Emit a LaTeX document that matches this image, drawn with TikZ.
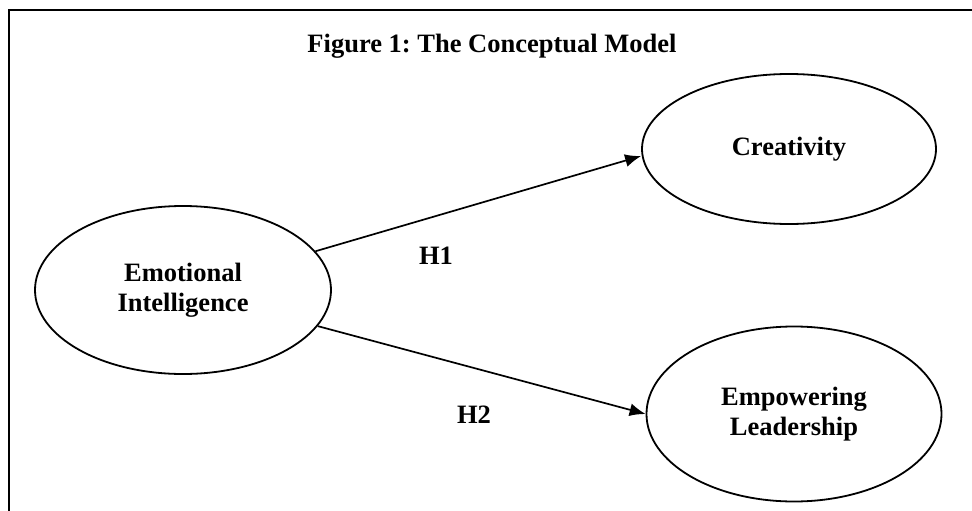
\documentclass[tikz,border=0pt]{standalone}
\usepackage{fontspec}
\setmainfont{Liberation Serif}
\usepackage{tikz}
\usetikzlibrary{shapes.geometric, arrows.meta}

\tikzset{
  construct/.style={ellipse, draw, line width=1.8pt, inner sep=0pt, align=center,
    font=\fontsize{26.5}{30}\selectfont\bfseries},
  path/.style={line width=1.7pt, -{Latex[length=16pt,width=13pt]}},
  hyp/.style={font=\fontsize{26.5}{30}\selectfont\bfseries}
}

\begin{document}
\frenchspacing
\begin{tikzpicture}[x=1pt,y=1pt]

\useasboundingbox (0,0) rectangle (972,-511);
\draw[line width=2.4pt] (9,-511) -- (9,-10) -- (972,-10) ; % frame, cut at right and bottom

\node[hyp] (title) at (492,-46) {Figure 1: The Conceptual Model};

\node[construct, minimum width=296pt, minimum height=168pt] (ei) at (183,-290) {Emotional\\Intelligence};
\node[construct, minimum width=294pt, minimum height=150pt] (cr) at (789,-149) {Creativity};
\node[construct, minimum width=295pt, minimum height=175pt] (el) at (794,-414) {Empowering\\Leadership};

\draw[path] (ei) -- ([yshift=-7pt]cr.west);
\draw[path] (ei) -- (el.west);

\node[hyp] (h1) at (436,-256) {H1};
\node[hyp] (h2) at (474,-415) {H2};

\end{tikzpicture}
\end{document}
